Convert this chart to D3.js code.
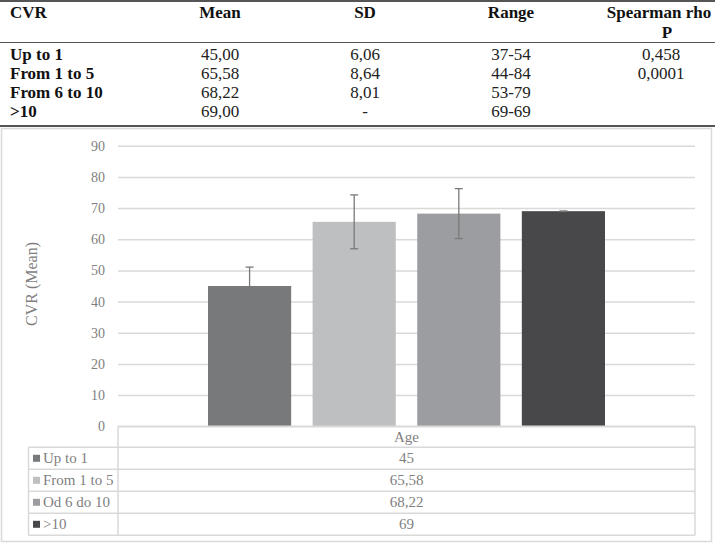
<!DOCTYPE html>
<html>
<head>
<meta charset="utf-8">
<script src="https://cdn.jsdelivr.net/npm/d3@7"></script>
<style>
  body { margin: 0; background: #fff; }
  svg { display: block; font-family: "Liberation Serif", "Times New Roman", serif; }
</style>
</head>
<body>
<svg id="chart" width="715" height="544"></svg>
<script>
// table rows (top) and chart data
const groups = ["Up to 1", "From 1 to 5", "From 6 to 10", ">10"];
const legendLabels = ["Up to 1", "From 1 to 5", "Od 6 do 10", ">10"];
const means = [45, 65.58, 68.22, 69];
const sds = [6.06, 8.64, 8.01, 0];
const meanText = ["45,00", "65,58", "68,22", "69,00"];
const sdText = ["6,06", "8,64", "8,01", "-"];
const rangeText = ["37-54", "44-84", "53-79", "69-69"];
const spearmanText = ["0,458", "0,0001", "", ""];
const legendValues = ["45", "65,58", "68,22", "69"];
const headers = ["CVR", "Mean", "SD", "Range", "Spearman rho"];
const yTicks = [0, 10, 20, 30, 40, 50, 60, 70, 80, 90];
const category = "Age";

const colors = ["#78797b", "#bebfc1", "#9c9da0", "#48484a"];
const textGray = "#7f7f7f";
const gridGray = "#d9d9d9";
const tableFont = 17;

const svg = d3.select("#chart");
svg.append("rect").attr("width", 715).attr("height", 544).attr("fill", "#fff");

// ---- top statistics table ----
const stats = svg.append("g");
const colX = [10, 220, 365, 511, 659];

stats.append("line").attr("x1", 0).attr("x2", 715).attr("y1", 1).attr("y2", 1)
  .attr("stroke", "#555").attr("stroke-width", 2);
stats.append("line").attr("x1", 0).attr("x2", 715).attr("y1", 42.5).attr("y2", 42.5)
  .attr("stroke", "#555").attr("stroke-width", 1.2);
stats.append("line").attr("x1", 0).attr("x2", 715).attr("y1", 126).attr("y2", 126)
  .attr("stroke", "#555").attr("stroke-width", 2);

stats.selectAll("text.head")
  .data(headers)
  .enter()
  .append("text")
  .attr("class", "head")
  .attr("x", (d, i) => colX[i])
  .attr("y", 18)
  .attr("text-anchor", (d, i) => i == 0 ? "start" : "middle")
  .attr("font-size", tableFont).attr("font-weight", "bold").attr("fill", "#111")
  .text(d => d);
stats.append("text")
  .attr("x", 667).attr("y", 37.5)
  .attr("text-anchor", "middle")
  .attr("font-size", tableFont).attr("font-weight", "bold").attr("fill", "#111")
  .text("P");

const rowY = [60, 79, 98, 117];
const rows = stats.selectAll("g.row")
  .data(groups)
  .enter()
  .append("g")
  .attr("transform", (d, i) => "translate(0," + rowY[i] + ")");

rows.append("text").attr("x", colX[0]).attr("font-size", tableFont).attr("font-weight", "bold")
  .attr("fill", "#111").text(d => d);
rows.append("text").attr("x", colX[1]).attr("text-anchor", "middle").attr("font-size", tableFont)
  .attr("fill", "#222").text((d, i) => meanText[i]);
rows.append("text").attr("x", colX[2]).attr("text-anchor", "middle").attr("font-size", tableFont)
  .attr("fill", "#222").text((d, i) => sdText[i]);
rows.append("text").attr("x", colX[3]).attr("text-anchor", "middle").attr("font-size", tableFont)
  .attr("fill", "#222").text((d, i) => rangeText[i]);
rows.append("text").attr("x", 661).attr("text-anchor", "middle").attr("font-size", tableFont)
  .attr("fill", "#222").text((d, i) => spearmanText[i]);

// ---- chart box ----
svg.append("rect")
  .attr("x", 1.5).attr("y", 128.5).attr("width", 710).attr("height", 413)
  .attr("fill", "none").attr("stroke", gridGray).attr("stroke-width", 1.5);

const plotLeft = 118, plotRight = 695;

const y = d3.scaleLinear()
  .domain([0, 90])
  .range([426.3, 145.7]);

const x0 = d3.scaleBand()
  .domain([category])
  .range([plotLeft, plotRight])
  .paddingInner(0)
  .paddingOuter(0.2267);

const x1 = d3.scaleBand()
  .domain(groups)
  .range([0, x0.bandwidth()])
  .paddingInner(0.205)
  .paddingOuter(0);

// Y axis with gridlines
const yAxis = svg.append("g")
  .attr("transform", "translate(" + plotLeft + ",0)")
  .call(d3.axisLeft(y).tickValues(yTicks).tickSize(-(plotRight - plotLeft)).tickPadding(13));
yAxis.select(".domain").remove();
yAxis.selectAll(".tick line").attr("stroke", gridGray).attr("stroke-width", 1.5);
yAxis.selectAll(".tick text")
  .attr("fill", textGray).attr("font-size", 14)
  .attr("font-family", "Liberation Serif, serif");

svg.append("text")
  .attr("transform", "translate(37,284) rotate(-90)")
  .attr("text-anchor", "middle")
  .attr("font-size", 16).attr("fill", textGray)
  .text("CVR (Mean)");

// bars
const bars = svg.append("g")
  .attr("transform", "translate(" + x0(category) + ",0)");

bars.selectAll("rect")
  .data(groups)
  .enter()
  .append("rect")
  .attr("x", d => x1(d))
  .attr("y", (d, i) => y(means[i]))
  .attr("width", x1.bandwidth())
  .attr("height", (d, i) => y(0) - y(means[i]))
  .attr("fill", (d, i) => colors[i]);

// error bars (mean +/- SD)
const err = bars.selectAll("g.err")
  .data(groups)
  .enter()
  .append("g")
  .attr("stroke", "#7a7a7a")
  .attr("stroke-width", 1.3);
err.append("line")
  .attr("x1", d => x1(d) + x1.bandwidth() / 2)
  .attr("x2", d => x1(d) + x1.bandwidth() / 2)
  .attr("y1", (d, i) => y(means[i] - sds[i]))
  .attr("y2", (d, i) => y(means[i] + sds[i]));
err.append("line")
  .attr("x1", d => x1(d) + x1.bandwidth() / 2 - 4)
  .attr("x2", d => x1(d) + x1.bandwidth() / 2 + 4)
  .attr("y1", (d, i) => y(means[i] + sds[i]))
  .attr("y2", (d, i) => y(means[i] + sds[i]));
err.append("line")
  .attr("x1", d => x1(d) + x1.bandwidth() / 2 - 4)
  .attr("x2", d => x1(d) + x1.bandwidth() / 2 + 4)
  .attr("y1", (d, i) => y(means[i] - sds[i]))
  .attr("y2", (d, i) => y(means[i] - sds[i]));

// ---- data table under the chart ----
const tblLeft = 28.5, tblTop = y(0), headH = 21, rowH = 22;
const tbl = svg.append("g").attr("stroke", gridGray).attr("stroke-width", 1.5);

tbl.append("line").attr("x1", plotLeft).attr("x2", plotRight).attr("y1", tblTop).attr("y2", tblTop);
groups.forEach((g, i) => {
  const yy = tblTop + headH + i * rowH;
  tbl.append("line").attr("x1", tblLeft).attr("x2", plotRight).attr("y1", yy).attr("y2", yy);
});
const tblBottom = tblTop + headH + groups.length * rowH;
tbl.append("line").attr("x1", tblLeft).attr("x2", plotRight).attr("y1", tblBottom).attr("y2", tblBottom);
tbl.append("line").attr("x1", tblLeft).attr("x2", tblLeft).attr("y1", tblTop + headH).attr("y2", tblBottom);
tbl.append("line").attr("x1", plotLeft).attr("x2", plotLeft).attr("y1", tblTop).attr("y2", tblBottom);
tbl.append("line").attr("x1", plotRight).attr("x2", plotRight).attr("y1", tblTop).attr("y2", tblBottom);

const midX = (plotLeft + plotRight) / 2;
svg.append("text")
  .attr("x", midX).attr("y", tblTop + headH / 2 + 5)
  .attr("text-anchor", "middle").attr("font-size", 15).attr("fill", textGray)
  .text(category);

const lrows = svg.selectAll("g.lrow")
  .data(legendLabels)
  .enter()
  .append("g")
  .attr("transform", (d, i) => "translate(0," + (tblTop + headH + i * rowH + rowH / 2) + ")");

lrows.append("rect")
  .attr("x", 33).attr("y", -3.5).attr("width", 7).attr("height", 7)
  .attr("fill", (d, i) => colors[i]);
lrows.append("text")
  .attr("x", 43).attr("y", 5)
  .attr("font-size", 15).attr("fill", textGray)
  .text(d => d);
lrows.append("text")
  .attr("x", midX).attr("y", 5)
  .attr("text-anchor", "middle")
  .attr("font-size", 15).attr("fill", textGray)
  .text((d, i) => legendValues[i]);
</script>
</body>
</html>
